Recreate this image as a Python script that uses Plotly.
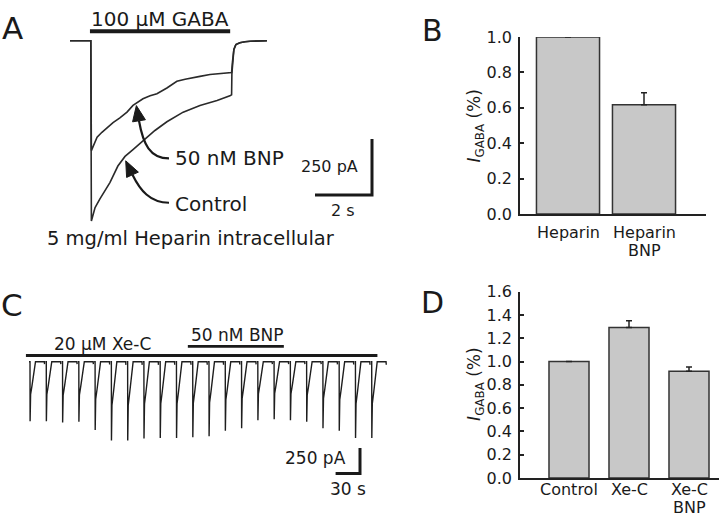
import plotly.graph_objects as go

W, H = 720, 525
FONT = "DejaVu Sans"
INK = "#1a1a1a"

# ---------------- Panel A: GABA currents (time in s, current in pA) ----------------
ctrl_t = [0.00, 0.73, 0.75, 0.81, 0.88, 1.05, 1.23, 1.40, 1.68, 1.93, 2.21, 2.56, 2.98, 3.40,
          3.97, 4.56, 5.16, 5.61, 5.67, 5.68, 5.72, 5.75, 5.82, 5.96, 6.14, 6.32, 6.91]
ctrl_i = [0, 0, -806, -776, -746, -707, -668, -634, -560, -517, -487, -448, -401, -362,
          -319, -289, -267, -246, -241, -147, -73, -39, -17, -9, -4, -2, 0]
bnp_t = [0.00, 0.73, 0.75, 0.84, 0.95, 1.12, 1.30, 1.51, 1.75, 2.00, 2.21, 2.56, 2.81, 3.05,
         3.40, 3.75, 4.04, 4.32, 4.56, 4.91, 5.26, 5.67, 5.70, 5.72, 5.75, 5.82, 5.96, 6.14, 6.32, 6.91]
bnp_i = [0, 0, -491, -461, -431, -409, -388, -366, -345, -319, -289, -259, -246, -237,
         -211, -181, -172, -164, -159, -151, -147, -142, -95, -65, -39, -17, -9, -4, -2, 0]
gaba_window = [0.70, 5.62]          # s
a_scale = {"t": 2, "pA": 250}

# ---------------- Panel B ----------------
b_labels = [["Heparin"], ["Heparin", "BNP"]]
b_values = [1.0, 0.617]
b_err = [0.0, 0.068]
b_ticks = [0.0, 0.2, 0.4, 0.6, 0.8, 1.0]

# ---------------- Panel C: repeated GABA responses ----------------
sweep_interval = 20                  # s
c_peaks = [582, 582, 594, 588, 667, 770, 770, 752, 745, 745, 738, 729, 676, 651,
           572, 563, 572, 588, 651, 676, 745, 745]   # pA
sweep_shape_t = [-1.2, 0.0, 0.12, 0.74, 2.46, 4.30, 5.29, 6.02, 6.76, 17.6, 17.9]
sweep_shape_frac = [0, 0, 1.0, 0.55, 0.40, 0.25, 0.15, 0.04, 0, 0, 0.04]
xec_window = [-5, 427]
bnp_window_c = [194, 312]
c_scale = {"t": 30, "pA": 250}

# ---------------- Panel D ----------------
d_labels = [["Control"], ["Xe-C"], ["Xe-C", "BNP"]]
d_values = [1.0, 1.293, 0.918]
d_err = [0.0, 0.058, 0.036]
d_ticks = [0.0, 0.2, 0.4, 0.6, 0.8, 1.0, 1.2, 1.4, 1.6]


def fx(p):
    return p / W


def fy(p):
    return 1 - p / H


fig = go.Figure()

# ---- layout calibration (pixels) ----
A_T0, A_PXS, A_BASE, A_PAPX = 70, 28.5, 33, 4.31
A_DOM_X, A_DOM_Y = (60, 400), (0, 250)
C_T0, C_PXS, C_BASE, C_PAPX = 30, 0.8136, 366, 9.43
C_DOM_X, C_DOM_Y = (10, 400), (300, 500)

# Panel A traces
for t, i in ((ctrl_t, ctrl_i), (bnp_t, bnp_i)):
    fig.add_trace(go.Scatter(x=t, y=i, mode="lines", xaxis="x", yaxis="y",
                             line=dict(color="#2a2a2a", width=1.6), hoverinfo="skip"))

# Panel B bars
fig.add_trace(go.Bar(x=list(range(len(b_values))), y=b_values, width=0.83,
                     xaxis="x2", yaxis="y2", hoverinfo="skip",
                     marker=dict(color="#c8c8c8", line=dict(color="#333", width=1.5)),
                     error_y=dict(type="data", array=b_err, arrayminus=[0] * len(b_err),
                                  symmetric=False, color="#222", thickness=1.5, width=3)))

# Panel C sweeps
cx, cy = [], []
for k, peak in enumerate(c_peaks):
    t0 = k * sweep_interval
    cx += [t0 + dt for dt in sweep_shape_t] + [None]
    cy += [-peak * f for f in sweep_shape_frac] + [None]
fig.add_trace(go.Scatter(x=cx, y=cy, mode="lines", xaxis="x3", yaxis="y3",
                         line=dict(color="#1e1e1e", width=1.4), hoverinfo="skip"))

# Panel D bars
fig.add_trace(go.Bar(x=list(range(len(d_values))), y=d_values, width=0.667,
                     xaxis="x4", yaxis="y4", hoverinfo="skip",
                     marker=dict(color="#c8c8c8", line=dict(color="#333", width=1.5)),
                     error_y=dict(type="data", array=d_err, arrayminus=[0] * len(d_err),
                                  symmetric=False, color="#222", thickness=1.5, width=3)))

hidden = dict(visible=False, fixedrange=True)
bar_y = dict(showline=True, linecolor="#222", linewidth=1.5, ticks="inside", ticklen=4,
             tickwidth=1.5, tickcolor="#222", showgrid=False, zeroline=False,
             tickformat=".1f", tickfont=dict(family=FONT, size=16, color=INK),
             ticklabelstandoff=3, fixedrange=True)
bar_x = dict(showline=True, linecolor="#222", linewidth=1.5, ticks="", showgrid=False,
             zeroline=False, showticklabels=False, fixedrange=True)

fig.update_layout(
    width=W, height=H, margin=dict(l=0, r=0, t=0, b=0),
    paper_bgcolor="white", plot_bgcolor="rgba(0,0,0,0)", showlegend=False,
    font=dict(family=FONT, color=INK),
    xaxis=dict(domain=[fx(A_DOM_X[0]), fx(A_DOM_X[1])], anchor="y",
               range=[(A_DOM_X[0] - A_T0) / A_PXS, (A_DOM_X[1] - A_T0) / A_PXS], **hidden),
    yaxis=dict(domain=[fy(A_DOM_Y[1]), fy(A_DOM_Y[0])], anchor="x",
               range=[-(A_DOM_Y[1] - A_BASE) * A_PAPX, (A_BASE - A_DOM_Y[0]) * A_PAPX], **hidden),
    xaxis2=dict(domain=[fx(520), fx(706)], anchor="y2",
                range=[(520 - 568) / 76, (706 - 568) / 76], **bar_x),
    yaxis2=dict(domain=[fy(212.7), fy(29)], anchor="x2", range=[0, 1.0], tickvals=b_ticks, **bar_y),
    xaxis3=dict(domain=[fx(C_DOM_X[0]), fx(C_DOM_X[1])], anchor="y3",
                range=[(C_DOM_X[0] - C_T0) / C_PXS, (C_DOM_X[1] - C_T0) / C_PXS], **hidden),
    yaxis3=dict(domain=[fy(C_DOM_Y[1]), fy(C_DOM_Y[0])], anchor="x3",
                range=[-(C_DOM_Y[1] - C_BASE) * C_PAPX, (C_BASE - C_DOM_Y[0]) * C_PAPX], **hidden),
    xaxis4=dict(domain=[fx(520), fx(719)], anchor="y4",
                range=[(520 - 569) / 60, (719 - 569) / 60], **bar_x),
    yaxis4=dict(domain=[fy(486.7), fy(293.3)], anchor="x4", range=[0, 1.6], tickvals=d_ticks, **bar_y),
)

shapes = []
ann = []


def text(x, y, s, size, xanchor="center", angle=0):
    ann.append(dict(x=fx(x), y=fy(y), xref="paper", yref="paper", text=s, showarrow=False,
                    xanchor=xanchor, yanchor="middle", textangle=angle,
                    font=dict(family=FONT, size=size, color=INK)))


# ---- Panel A decorations ----
shapes.append(dict(type="line", xref="x", yref="paper", x0=gaba_window[0], x1=gaba_window[1],
                   y0=fy(23), y1=fy(23), line=dict(color=INK, width=4)))
text(160, 10, "100 μM GABA", 20)
text(12, 20, "A", 31)
text(173, 155, "50 nM BNP", 20, xanchor="left")
text(173, 202, "Control", 20, xanchor="left")
text(45, 238, "5 mg/ml Heparin intracellular", 19.5, xanchor="left")

# scale bar A (data coordinates)
sb_t = (372 - A_T0) / A_PXS
sb_i = -(193 - A_BASE) * A_PAPX
shapes.append(dict(type="path", xref="x", yref="y",
                   path=f"M {sb_t - a_scale['t']} {sb_i} L {sb_t} {sb_i} L {sb_t} {sb_i + a_scale['pA']}",
                   line=dict(color=INK, width=3)))
text(360, 163, "250 pA", 16, xanchor="right")
text(343, 209, "2 s", 16)


def curved_arrow(p0, c1, c2, p1, head=16, half=6.5):
    path = (f"M {fx(p0[0])} {fy(p0[1])} C {fx(c1[0])} {fy(c1[1])} "
            f"{fx(c2[0])} {fy(c2[1])} {fx(p1[0])} {fy(p1[1])}")
    shapes.append(dict(type="path", xref="paper", yref="paper", path=path,
                       line=dict(color=INK, width=2.2)))
    dx, dy = p1[0] - c2[0], p1[1] - c2[1]
    n = (dx * dx + dy * dy) ** 0.5
    ux, uy = dx / n, dy / n
    tip = (p1[0] + head * ux, p1[1] + head * uy)
    px_, py_ = -uy, ux
    b1 = (p1[0] + half * px_, p1[1] + half * py_)
    b2 = (p1[0] - half * px_, p1[1] - half * py_)
    tri = (f"M {fx(tip[0])} {fy(tip[1])} L {fx(b1[0])} {fy(b1[1])} "
           f"L {fx(b2[0])} {fy(b2[1])} Z")
    shapes.append(dict(type="path", xref="paper", yref="paper", path=tri,
                       fillcolor=INK, line=dict(color=INK, width=1)))


curved_arrow((169, 155), (150, 155), (143, 140), (139, 116))
curved_arrow((169, 201), (150, 201), (140, 188), (132.5, 172))

# ---- Panel B decorations ----
text(432, 22, "B", 30)
text(476, 122, "<i>I</i><sub>GABA</sub> (%)", 17, angle=-90)
for k, lines in enumerate(b_labels):
    for j, s in enumerate(lines):
        ann.append(dict(x=k, y=fy(232 + 18.5 * j), xref="x2", yref="paper", text=s,
                        showarrow=False, xanchor="center", yanchor="middle",
                        font=dict(family=FONT, size=16, color=INK)))

# ---- Panel C decorations ----
text(12, 307, "C", 31)
shapes.append(dict(type="line", xref="x3", yref="paper", x0=xec_window[0], x1=xec_window[1],
                   y0=fy(359.5), y1=fy(359.5), line=dict(color=INK, width=3)))
shapes.append(dict(type="line", xref="x3", yref="paper", x0=bnp_window_c[0], x1=bnp_window_c[1],
                   y0=fy(350), y1=fy(350), line=dict(color=INK, width=2.6)))
text(102, 348, "20 μM Xe-C", 17)
text(237, 338, "50 nM BNP", 17)
sc_t = (360 - C_T0) / C_PXS
sc_i = -(482 - C_BASE) * C_PAPX
shapes.append(dict(type="path", xref="x3", yref="y3",
                   path=f"M {sc_t - c_scale['t']} {sc_i} L {sc_t} {sc_i} L {sc_t} {sc_i + c_scale['pA']}",
                   line=dict(color=INK, width=3)))
text(348, 466, "250 pA", 17, xanchor="right")
text(348, 498, "30 s", 17)

# ---- Panel D decorations ----
text(432, 305, "D", 30)
text(476, 390, "<i>I</i><sub>GABA</sub> (%)", 17, angle=-90)
for k, lines in enumerate(d_labels):
    for j, s in enumerate(lines):
        ann.append(dict(x=k, y=fy(498.5 + 18.5 * j), xref="x4", yref="paper", text=s,
                        showarrow=False, xanchor="center", yanchor="middle",
                        font=dict(family=FONT, size=16, color=INK)))

fig.update_layout(shapes=shapes, annotations=ann)
# remove the browser's default 8px page margin so the chart sits at the window origin
fig.write_html("out.html", config={"displayModeBar": False},
               post_script="document.body.style.margin='0px';")
